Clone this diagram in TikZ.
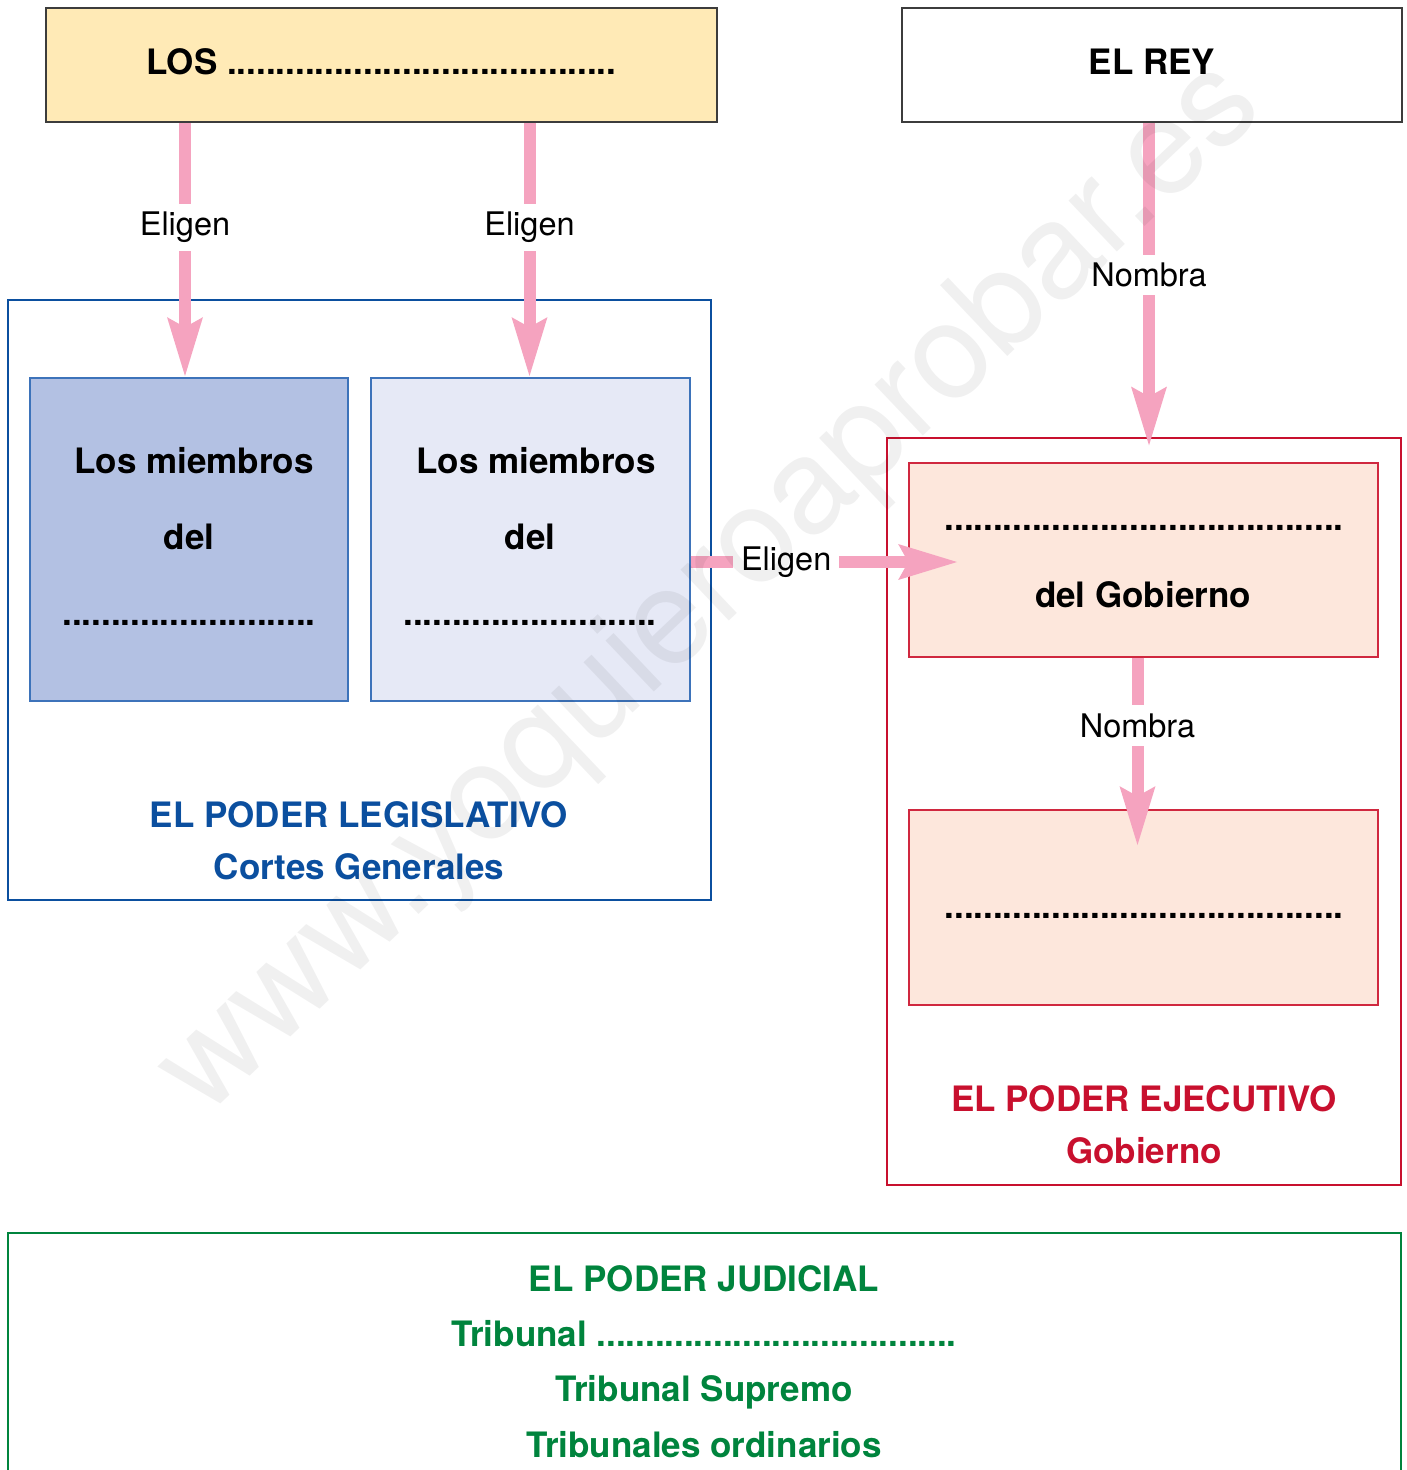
\documentclass[tikz,border=0pt]{standalone}
\usepackage{fontspec}
\setmainfont{TeX Gyre Heros}
\usetikzlibrary{arrows.meta,calc}

\definecolor{rosa}{HTML}{F5A3BF}
\definecolor{amarillo}{HTML}{FFEAB6}
\definecolor{gris}{HTML}{3C3C3C}
\definecolor{azulMarco}{HTML}{0B4F9F}
\definecolor{azulBorde}{HTML}{3D73BA}
\definecolor{azulClaro}{HTML}{B3C1E3}
\definecolor{azulPalido}{HTML}{E6E9F6}
\definecolor{rojoMarco}{HTML}{C8102E}
\definecolor{rojoBorde}{HTML}{D0283F}
\definecolor{salmon}{HTML}{FDE7DC}
\definecolor{verde}{HTML}{00843D}

\newcommand{\puntos}[1]{\foreach \ip in {1,...,#1}{.}}

\begin{document}
\begin{tikzpicture}
[x=1pt,y=-1pt,%
  boxDecorate/.style={shape=rectangle,inner sep=0pt,draw=gris,line width=1.5pt,text depth=6pt,
    font=\fontsize{35}{40}\selectfont\bfseries},%
  frameDecorate/.style={shape=rectangle,inner sep=0pt,draw=#1,line width=2.5pt},%
  cellDecorate/.style 2 args={shape=rectangle,inner sep=0pt,draw=#1,fill=#2,line width=1.2pt},%
  textDecorate/.style={anchor=base,inner sep=0pt,font=\fontsize{35}{40}\selectfont\bfseries},%
  arrowDecorate/.style={-{Stealth[length=58pt,width=33pt,inset=8pt]},line width=12pt,draw=rosa},%
  labelDecorate/.style={fill=white,inner sep=8pt,font=\fontsize{32.5}{36}\selectfont}]
\useasboundingbox (0,0) rectangle (1407,1470);
\clip (0,0) rectangle (1407,1470);
%% boxes
\node[boxDecorate,fill=amarillo,minimum width=671,minimum height=114] (los) at (381.5,65) {LOS \puntos{40}};
\node[boxDecorate,minimum width=500,minimum height=114] (rey) at (1152,65) {EL REY};
\node[frameDecorate=azulMarco,minimum width=703,minimum height=600] (leg) at (359.5,600) {};
\node[cellDecorate={azulBorde}{azulClaro},minimum width=318,minimum height=323] (cam1) at (189,539.5) {};
\node[cellDecorate={azulBorde}{azulPalido},minimum width=319,minimum height=323] (cam2) at (530.5,539.5) {};
\node[frameDecorate=rojoMarco,minimum width=514,minimum height=747] (ejec) at (1144,811.5) {};
\node[cellDecorate={rojoBorde}{salmon},minimum width=469,minimum height=194] (gob) at (1143.5,560) {};
\node[cellDecorate={rojoBorde}{salmon},minimum width=469,minimum height=195] (min) at (1143.5,907.5) {};
\node[frameDecorate=verde,minimum width=1393,minimum height=267] (jud) at (704.5,1366.5) {};
%% texts in the boxes
\foreach \nodename/\x/\y/\texto in {
  c1a/194/473/Los miembros, c1b/189/549/del, c1c/189/625/\puntos{26},
  c2a/536/473/Los miembros, c2b/530/549/del, c2c/530/625/\puntos{26},
  g1/1144/530/\puntos{41}, g2/1143/607/del Gobierno, m1/1144/918/\puntos{41}}
{
  \node[textDecorate] (\nodename) at (\x,\y) {\texto};
}
\foreach \nodename/\x/\y/\texto in {
  l1/359/827/EL PODER LEGISLATIVO, l2/359/879/Cortes Generales}
{
  \node[textDecorate,text=azulMarco] (\nodename) at (\x,\y) {\texto};
}
\foreach \nodename/\x/\y/\texto in {
  p1/1144/1111/EL PODER EJECUTIVO, p2/1144/1163/Gobierno}
{
  \node[textDecorate,text=rojoMarco] (\nodename) at (\x,\y) {\texto};
}
\foreach \nodename/\x/\y/\texto in {
  j1/704/1291/EL PODER JUDICIAL, j2/704/1346/Tribunal \puntos{37},
  j3/704/1401/Tribunal Supremo, j4/704/1457/Tribunales ordinarios}
{
  \node[textDecorate,text=verde] (\nodename) at (\x,\y) {\texto};
}
%% arrows
\draw[arrowDecorate] ($(los.south -| cam1.north)+(-4,0)$) -- node[labelDecorate,pos=0.41] (e1) {Eligen} ($(cam1.north)+(-4,0)$);
\draw[arrowDecorate] ($(los.south -| cam2.north)+(-1,0)$) -- node[labelDecorate,pos=0.41] (e2) {Eligen} ($(cam2.north)+(-1,0)$);
\draw[arrowDecorate] ($(rey.south)+(-3,0)$) -- node[labelDecorate,pos=0.47] (n1) {Nombra} ($(rey.south |- ejec.north)+(-3,10)$);
\draw[arrowDecorate] ($(cam2.east |- gob.west)+(0,2)$) -- node[labelDecorate,pos=0.357] (e3) {Eligen} ($(gob.west)+(50,2)$);
\draw[arrowDecorate] ($(gob.south)+(-6,0)$) -- node[labelDecorate,pos=0.36] (n2) {Nombra} ($(min.north)+(-6,37)$);
%% watermark
\node[rotate=43.5,opacity=0.06,font=\fontsize{134}{150}\selectfont] (marca) at (712,590) {www.yoquieroaprobar.es};
\end{tikzpicture}
\end{document}
